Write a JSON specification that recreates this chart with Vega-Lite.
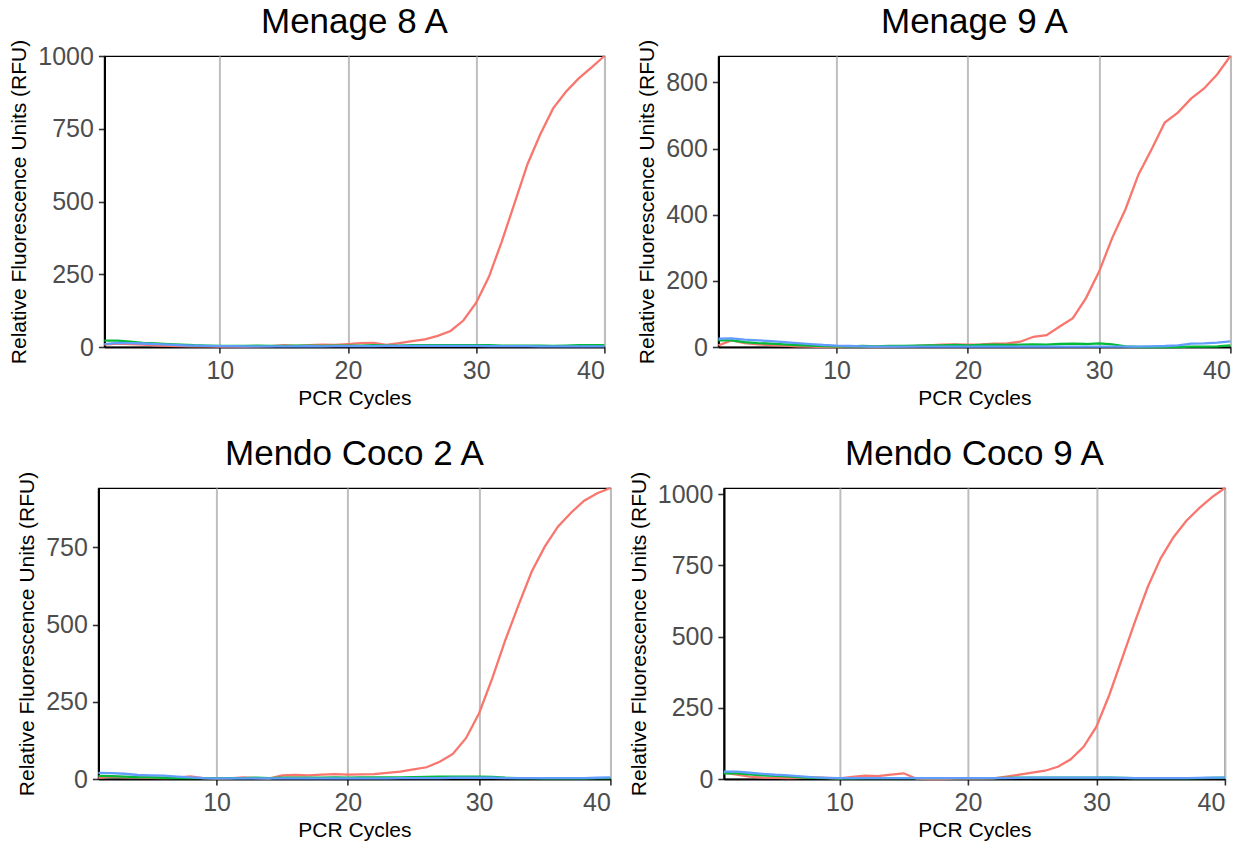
{
  "$schema": "https://vega.github.io/schema/vega-lite/v6.json",
  "padding": {"left": 8, "top": 4, "right": 5, "bottom": 5},
  "background": "white",
  "datasets": {
    "m8": [
      {"cycle":1,"dye":"R","rfu":8},{"cycle":2,"dye":"R","rfu":12},{"cycle":3,"dye":"R","rfu":10},{"cycle":4,"dye":"R","rfu":8},{"cycle":5,"dye":"R","rfu":6},{"cycle":6,"dye":"R","rfu":4},{"cycle":7,"dye":"R","rfu":3},{"cycle":8,"dye":"R","rfu":2},{"cycle":9,"dye":"R","rfu":2},{"cycle":10,"dye":"R","rfu":1},
      {"cycle":11,"dye":"R","rfu":2},{"cycle":12,"dye":"R","rfu":1},{"cycle":13,"dye":"R","rfu":2},{"cycle":14,"dye":"R","rfu":3},{"cycle":15,"dye":"R","rfu":6},{"cycle":16,"dye":"R","rfu":4},{"cycle":17,"dye":"R","rfu":6},{"cycle":18,"dye":"R","rfu":8},{"cycle":19,"dye":"R","rfu":7},{"cycle":20,"dye":"R","rfu":10},
      {"cycle":21,"dye":"R","rfu":13},{"cycle":22,"dye":"R","rfu":14},{"cycle":23,"dye":"R","rfu":7},{"cycle":24,"dye":"R","rfu":13},{"cycle":25,"dye":"R","rfu":20},{"cycle":26,"dye":"R","rfu":26},{"cycle":27,"dye":"R","rfu":38},{"cycle":28,"dye":"R","rfu":55},{"cycle":29,"dye":"R","rfu":91},{"cycle":30,"dye":"R","rfu":152},
      {"cycle":31,"dye":"R","rfu":242},{"cycle":32,"dye":"R","rfu":363},{"cycle":33,"dye":"R","rfu":495},{"cycle":34,"dye":"R","rfu":628},{"cycle":35,"dye":"R","rfu":731},{"cycle":36,"dye":"R","rfu":820},{"cycle":37,"dye":"R","rfu":877},{"cycle":38,"dye":"R","rfu":923},{"cycle":39,"dye":"R","rfu":961},{"cycle":40,"dye":"R","rfu":1000},
      {"cycle":1,"dye":"G","rfu":22},{"cycle":2,"dye":"G","rfu":22},{"cycle":3,"dye":"G","rfu":18},{"cycle":4,"dye":"G","rfu":14},{"cycle":5,"dye":"G","rfu":12},{"cycle":6,"dye":"G","rfu":10},{"cycle":7,"dye":"G","rfu":8},{"cycle":8,"dye":"G","rfu":6},{"cycle":9,"dye":"G","rfu":5},{"cycle":10,"dye":"G","rfu":4},
      {"cycle":11,"dye":"G","rfu":4},{"cycle":12,"dye":"G","rfu":4},{"cycle":13,"dye":"G","rfu":5},{"cycle":14,"dye":"G","rfu":4},{"cycle":15,"dye":"G","rfu":4},{"cycle":16,"dye":"G","rfu":5},{"cycle":17,"dye":"G","rfu":5},{"cycle":18,"dye":"G","rfu":4},{"cycle":19,"dye":"G","rfu":5},{"cycle":20,"dye":"G","rfu":5},
      {"cycle":21,"dye":"G","rfu":5},{"cycle":22,"dye":"G","rfu":6},{"cycle":23,"dye":"G","rfu":5},{"cycle":24,"dye":"G","rfu":5},{"cycle":25,"dye":"G","rfu":6},{"cycle":26,"dye":"G","rfu":6},{"cycle":27,"dye":"G","rfu":6},{"cycle":28,"dye":"G","rfu":6},{"cycle":29,"dye":"G","rfu":6},{"cycle":30,"dye":"G","rfu":6},
      {"cycle":31,"dye":"G","rfu":6},{"cycle":32,"dye":"G","rfu":5},{"cycle":33,"dye":"G","rfu":5},{"cycle":34,"dye":"G","rfu":5},{"cycle":35,"dye":"G","rfu":5},{"cycle":36,"dye":"G","rfu":4},{"cycle":37,"dye":"G","rfu":5},{"cycle":38,"dye":"G","rfu":6},{"cycle":39,"dye":"G","rfu":6},{"cycle":40,"dye":"G","rfu":6},
      {"cycle":1,"dye":"B","rfu":10},{"cycle":2,"dye":"B","rfu":14},{"cycle":3,"dye":"B","rfu":13},{"cycle":4,"dye":"B","rfu":12},{"cycle":5,"dye":"B","rfu":10},{"cycle":6,"dye":"B","rfu":8},{"cycle":7,"dye":"B","rfu":6},{"cycle":8,"dye":"B","rfu":5},{"cycle":9,"dye":"B","rfu":4},{"cycle":10,"dye":"B","rfu":3},
      {"cycle":11,"dye":"B","rfu":3},{"cycle":12,"dye":"B","rfu":2},{"cycle":13,"dye":"B","rfu":2},{"cycle":14,"dye":"B","rfu":2},{"cycle":15,"dye":"B","rfu":2},{"cycle":16,"dye":"B","rfu":2},{"cycle":17,"dye":"B","rfu":3},{"cycle":18,"dye":"B","rfu":2},{"cycle":19,"dye":"B","rfu":3},{"cycle":20,"dye":"B","rfu":3},
      {"cycle":21,"dye":"B","rfu":3},{"cycle":22,"dye":"B","rfu":3},{"cycle":23,"dye":"B","rfu":4},{"cycle":24,"dye":"B","rfu":4},{"cycle":25,"dye":"B","rfu":4},{"cycle":26,"dye":"B","rfu":4},{"cycle":27,"dye":"B","rfu":4},{"cycle":28,"dye":"B","rfu":4},{"cycle":29,"dye":"B","rfu":4},{"cycle":30,"dye":"B","rfu":4},
      {"cycle":31,"dye":"B","rfu":3},{"cycle":32,"dye":"B","rfu":3},{"cycle":33,"dye":"B","rfu":3},{"cycle":34,"dye":"B","rfu":3},{"cycle":35,"dye":"B","rfu":2},{"cycle":36,"dye":"B","rfu":2},{"cycle":37,"dye":"B","rfu":2},{"cycle":38,"dye":"B","rfu":2},{"cycle":39,"dye":"B","rfu":2},{"cycle":40,"dye":"B","rfu":2}
    ],
    "m9": [
      {"cycle":1,"dye":"R","rfu":5},{"cycle":2,"dye":"R","rfu":20},{"cycle":3,"dye":"R","rfu":12},{"cycle":4,"dye":"R","rfu":8},{"cycle":5,"dye":"R","rfu":6},{"cycle":6,"dye":"R","rfu":4},{"cycle":7,"dye":"R","rfu":2},{"cycle":8,"dye":"R","rfu":1},{"cycle":9,"dye":"R","rfu":0},{"cycle":10,"dye":"R","rfu":0},
      {"cycle":11,"dye":"R","rfu":2},{"cycle":12,"dye":"R","rfu":1},{"cycle":13,"dye":"R","rfu":0},{"cycle":14,"dye":"R","rfu":1},{"cycle":15,"dye":"R","rfu":2},{"cycle":16,"dye":"R","rfu":3},{"cycle":17,"dye":"R","rfu":5},{"cycle":18,"dye":"R","rfu":7},{"cycle":19,"dye":"R","rfu":8},{"cycle":20,"dye":"R","rfu":7},
      {"cycle":21,"dye":"R","rfu":8},{"cycle":22,"dye":"R","rfu":10},{"cycle":23,"dye":"R","rfu":11},{"cycle":24,"dye":"R","rfu":16},{"cycle":25,"dye":"R","rfu":31},{"cycle":26,"dye":"R","rfu":36},{"cycle":27,"dye":"R","rfu":62},{"cycle":28,"dye":"R","rfu":87},{"cycle":29,"dye":"R","rfu":148},{"cycle":30,"dye":"R","rfu":228},
      {"cycle":31,"dye":"R","rfu":330},{"cycle":32,"dye":"R","rfu":416},{"cycle":33,"dye":"R","rfu":522},{"cycle":34,"dye":"R","rfu":598},{"cycle":35,"dye":"R","rfu":679},{"cycle":36,"dye":"R","rfu":709},{"cycle":37,"dye":"R","rfu":751},{"cycle":38,"dye":"R","rfu":782},{"cycle":39,"dye":"R","rfu":825},{"cycle":40,"dye":"R","rfu":880},
      {"cycle":1,"dye":"G","rfu":20},{"cycle":2,"dye":"G","rfu":20},{"cycle":3,"dye":"G","rfu":15},{"cycle":4,"dye":"G","rfu":12},{"cycle":5,"dye":"G","rfu":10},{"cycle":6,"dye":"G","rfu":8},{"cycle":7,"dye":"G","rfu":6},{"cycle":8,"dye":"G","rfu":4},{"cycle":9,"dye":"G","rfu":3},{"cycle":10,"dye":"G","rfu":2},
      {"cycle":11,"dye":"G","rfu":2},{"cycle":12,"dye":"G","rfu":3},{"cycle":13,"dye":"G","rfu":2},{"cycle":14,"dye":"G","rfu":3},{"cycle":15,"dye":"G","rfu":3},{"cycle":16,"dye":"G","rfu":4},{"cycle":17,"dye":"G","rfu":5},{"cycle":18,"dye":"G","rfu":5},{"cycle":19,"dye":"G","rfu":6},{"cycle":20,"dye":"G","rfu":5},
      {"cycle":21,"dye":"G","rfu":6},{"cycle":22,"dye":"G","rfu":7},{"cycle":23,"dye":"G","rfu":6},{"cycle":24,"dye":"G","rfu":7},{"cycle":25,"dye":"G","rfu":8},{"cycle":26,"dye":"G","rfu":7},{"cycle":27,"dye":"G","rfu":9},{"cycle":28,"dye":"G","rfu":10},{"cycle":29,"dye":"G","rfu":9},{"cycle":30,"dye":"G","rfu":11},
      {"cycle":31,"dye":"G","rfu":8},{"cycle":32,"dye":"G","rfu":2},{"cycle":33,"dye":"G","rfu":0},{"cycle":34,"dye":"G","rfu":0},{"cycle":35,"dye":"G","rfu":0},{"cycle":36,"dye":"G","rfu":0},{"cycle":37,"dye":"G","rfu":1},{"cycle":38,"dye":"G","rfu":1},{"cycle":39,"dye":"G","rfu":2},{"cycle":40,"dye":"G","rfu":5},
      {"cycle":1,"dye":"B","rfu":25},{"cycle":2,"dye":"B","rfu":26},{"cycle":3,"dye":"B","rfu":22},{"cycle":4,"dye":"B","rfu":20},{"cycle":5,"dye":"B","rfu":18},{"cycle":6,"dye":"B","rfu":15},{"cycle":7,"dye":"B","rfu":12},{"cycle":8,"dye":"B","rfu":9},{"cycle":9,"dye":"B","rfu":6},{"cycle":10,"dye":"B","rfu":4},
      {"cycle":11,"dye":"B","rfu":3},{"cycle":12,"dye":"B","rfu":2},{"cycle":13,"dye":"B","rfu":1},{"cycle":14,"dye":"B","rfu":1},{"cycle":15,"dye":"B","rfu":1},{"cycle":16,"dye":"B","rfu":1},{"cycle":17,"dye":"B","rfu":1},{"cycle":18,"dye":"B","rfu":1},{"cycle":19,"dye":"B","rfu":1},{"cycle":20,"dye":"B","rfu":1},
      {"cycle":21,"dye":"B","rfu":1},{"cycle":22,"dye":"B","rfu":1},{"cycle":23,"dye":"B","rfu":1},{"cycle":24,"dye":"B","rfu":1},{"cycle":25,"dye":"B","rfu":1},{"cycle":26,"dye":"B","rfu":1},{"cycle":27,"dye":"B","rfu":1},{"cycle":28,"dye":"B","rfu":1},{"cycle":29,"dye":"B","rfu":1},{"cycle":30,"dye":"B","rfu":1},
      {"cycle":31,"dye":"B","rfu":1},{"cycle":32,"dye":"B","rfu":1},{"cycle":33,"dye":"B","rfu":1},{"cycle":34,"dye":"B","rfu":2},{"cycle":35,"dye":"B","rfu":3},{"cycle":36,"dye":"B","rfu":5},{"cycle":37,"dye":"B","rfu":10},{"cycle":38,"dye":"B","rfu":11},{"cycle":39,"dye":"B","rfu":13},{"cycle":40,"dye":"B","rfu":17}
    ],
    "c2": [
      {"cycle":1,"dye":"R","rfu":4},{"cycle":2,"dye":"R","rfu":8},{"cycle":3,"dye":"R","rfu":6},{"cycle":4,"dye":"R","rfu":5},{"cycle":5,"dye":"R","rfu":4},{"cycle":6,"dye":"R","rfu":3},{"cycle":7,"dye":"R","rfu":4},{"cycle":8,"dye":"R","rfu":8},{"cycle":9,"dye":"R","rfu":3},{"cycle":10,"dye":"R","rfu":1},
      {"cycle":11,"dye":"R","rfu":2},{"cycle":12,"dye":"R","rfu":5},{"cycle":13,"dye":"R","rfu":3},{"cycle":14,"dye":"R","rfu":1},{"cycle":15,"dye":"R","rfu":12},{"cycle":16,"dye":"R","rfu":13},{"cycle":17,"dye":"R","rfu":12},{"cycle":18,"dye":"R","rfu":14},{"cycle":19,"dye":"R","rfu":16},{"cycle":20,"dye":"R","rfu":14},
      {"cycle":21,"dye":"R","rfu":15},{"cycle":22,"dye":"R","rfu":16},{"cycle":23,"dye":"R","rfu":20},{"cycle":24,"dye":"R","rfu":24},{"cycle":25,"dye":"R","rfu":31},{"cycle":26,"dye":"R","rfu":38},{"cycle":27,"dye":"R","rfu":56},{"cycle":28,"dye":"R","rfu":81},{"cycle":29,"dye":"R","rfu":132},{"cycle":30,"dye":"R","rfu":213},
      {"cycle":31,"dye":"R","rfu":326},{"cycle":32,"dye":"R","rfu":450},{"cycle":33,"dye":"R","rfu":563},{"cycle":34,"dye":"R","rfu":671},{"cycle":35,"dye":"R","rfu":752},{"cycle":36,"dye":"R","rfu":817},{"cycle":37,"dye":"R","rfu":862},{"cycle":38,"dye":"R","rfu":901},{"cycle":39,"dye":"R","rfu":925},{"cycle":40,"dye":"R","rfu":942},
      {"cycle":1,"dye":"G","rfu":10},{"cycle":2,"dye":"G","rfu":9},{"cycle":3,"dye":"G","rfu":8},{"cycle":4,"dye":"G","rfu":6},{"cycle":5,"dye":"G","rfu":5},{"cycle":6,"dye":"G","rfu":4},{"cycle":7,"dye":"G","rfu":3},{"cycle":8,"dye":"G","rfu":3},{"cycle":9,"dye":"G","rfu":3},{"cycle":10,"dye":"G","rfu":3},
      {"cycle":11,"dye":"G","rfu":3},{"cycle":12,"dye":"G","rfu":3},{"cycle":13,"dye":"G","rfu":4},{"cycle":14,"dye":"G","rfu":3},{"cycle":15,"dye":"G","rfu":4},{"cycle":16,"dye":"G","rfu":4},{"cycle":17,"dye":"G","rfu":4},{"cycle":18,"dye":"G","rfu":4},{"cycle":19,"dye":"G","rfu":5},{"cycle":20,"dye":"G","rfu":4},
      {"cycle":21,"dye":"G","rfu":5},{"cycle":22,"dye":"G","rfu":5},{"cycle":23,"dye":"G","rfu":5},{"cycle":24,"dye":"G","rfu":5},{"cycle":25,"dye":"G","rfu":6},{"cycle":26,"dye":"G","rfu":7},{"cycle":27,"dye":"G","rfu":8},{"cycle":28,"dye":"G","rfu":8},{"cycle":29,"dye":"G","rfu":8},{"cycle":30,"dye":"G","rfu":8},
      {"cycle":31,"dye":"G","rfu":7},{"cycle":32,"dye":"G","rfu":4},{"cycle":33,"dye":"G","rfu":3},{"cycle":34,"dye":"G","rfu":3},{"cycle":35,"dye":"G","rfu":2},{"cycle":36,"dye":"G","rfu":2},{"cycle":37,"dye":"G","rfu":2},{"cycle":38,"dye":"G","rfu":2},{"cycle":39,"dye":"G","rfu":3},{"cycle":40,"dye":"G","rfu":3},
      {"cycle":1,"dye":"B","rfu":20},{"cycle":2,"dye":"B","rfu":19},{"cycle":3,"dye":"B","rfu":17},{"cycle":4,"dye":"B","rfu":13},{"cycle":5,"dye":"B","rfu":12},{"cycle":6,"dye":"B","rfu":11},{"cycle":7,"dye":"B","rfu":8},{"cycle":8,"dye":"B","rfu":5},{"cycle":9,"dye":"B","rfu":3},{"cycle":10,"dye":"B","rfu":2},
      {"cycle":11,"dye":"B","rfu":2},{"cycle":12,"dye":"B","rfu":2},{"cycle":13,"dye":"B","rfu":2},{"cycle":14,"dye":"B","rfu":2},{"cycle":15,"dye":"B","rfu":2},{"cycle":16,"dye":"B","rfu":2},{"cycle":17,"dye":"B","rfu":2},{"cycle":18,"dye":"B","rfu":2},{"cycle":19,"dye":"B","rfu":2},{"cycle":20,"dye":"B","rfu":2},
      {"cycle":21,"dye":"B","rfu":2},{"cycle":22,"dye":"B","rfu":2},{"cycle":23,"dye":"B","rfu":2},{"cycle":24,"dye":"B","rfu":3},{"cycle":25,"dye":"B","rfu":3},{"cycle":26,"dye":"B","rfu":3},{"cycle":27,"dye":"B","rfu":3},{"cycle":28,"dye":"B","rfu":4},{"cycle":29,"dye":"B","rfu":4},{"cycle":30,"dye":"B","rfu":4},
      {"cycle":31,"dye":"B","rfu":4},{"cycle":32,"dye":"B","rfu":3},{"cycle":33,"dye":"B","rfu":3},{"cycle":34,"dye":"B","rfu":3},{"cycle":35,"dye":"B","rfu":3},{"cycle":36,"dye":"B","rfu":3},{"cycle":37,"dye":"B","rfu":3},{"cycle":38,"dye":"B","rfu":3},{"cycle":39,"dye":"B","rfu":4},{"cycle":40,"dye":"B","rfu":5}
    ],
    "c9": [
      {"cycle":1,"dye":"R","rfu":22},{"cycle":2,"dye":"R","rfu":15},{"cycle":3,"dye":"R","rfu":8},{"cycle":4,"dye":"R","rfu":5},{"cycle":5,"dye":"R","rfu":4},{"cycle":6,"dye":"R","rfu":3},{"cycle":7,"dye":"R","rfu":4},{"cycle":8,"dye":"R","rfu":6},{"cycle":9,"dye":"R","rfu":4},{"cycle":10,"dye":"R","rfu":2},
      {"cycle":11,"dye":"R","rfu":7},{"cycle":12,"dye":"R","rfu":12},{"cycle":13,"dye":"R","rfu":10},{"cycle":14,"dye":"R","rfu":15},{"cycle":15,"dye":"R","rfu":20},{"cycle":16,"dye":"R","rfu":1},{"cycle":17,"dye":"R","rfu":0},{"cycle":18,"dye":"R","rfu":0},{"cycle":19,"dye":"R","rfu":1},{"cycle":20,"dye":"R","rfu":1},
      {"cycle":21,"dye":"R","rfu":1},{"cycle":22,"dye":"R","rfu":2},{"cycle":23,"dye":"R","rfu":8},{"cycle":24,"dye":"R","rfu":15},{"cycle":25,"dye":"R","rfu":22},{"cycle":26,"dye":"R","rfu":29},{"cycle":27,"dye":"R","rfu":43},{"cycle":28,"dye":"R","rfu":69},{"cycle":29,"dye":"R","rfu":113},{"cycle":30,"dye":"R","rfu":184},
      {"cycle":31,"dye":"R","rfu":295},{"cycle":32,"dye":"R","rfu":424},{"cycle":33,"dye":"R","rfu":553},{"cycle":34,"dye":"R","rfu":675},{"cycle":35,"dye":"R","rfu":775},{"cycle":36,"dye":"R","rfu":849},{"cycle":37,"dye":"R","rfu":907},{"cycle":38,"dye":"R","rfu":951},{"cycle":39,"dye":"R","rfu":990},{"cycle":40,"dye":"R","rfu":1022},
      {"cycle":1,"dye":"G","rfu":20},{"cycle":2,"dye":"G","rfu":20},{"cycle":3,"dye":"G","rfu":16},{"cycle":4,"dye":"G","rfu":13},{"cycle":5,"dye":"G","rfu":11},{"cycle":6,"dye":"G","rfu":9},{"cycle":7,"dye":"G","rfu":6},{"cycle":8,"dye":"G","rfu":4},{"cycle":9,"dye":"G","rfu":3},{"cycle":10,"dye":"G","rfu":2},
      {"cycle":11,"dye":"G","rfu":2},{"cycle":12,"dye":"G","rfu":3},{"cycle":13,"dye":"G","rfu":3},{"cycle":14,"dye":"G","rfu":3},{"cycle":15,"dye":"G","rfu":3},{"cycle":16,"dye":"G","rfu":3},{"cycle":17,"dye":"G","rfu":3},{"cycle":18,"dye":"G","rfu":3},{"cycle":19,"dye":"G","rfu":3},{"cycle":20,"dye":"G","rfu":3},
      {"cycle":21,"dye":"G","rfu":3},{"cycle":22,"dye":"G","rfu":3},{"cycle":23,"dye":"G","rfu":4},{"cycle":24,"dye":"G","rfu":5},{"cycle":25,"dye":"G","rfu":5},{"cycle":26,"dye":"G","rfu":5},{"cycle":27,"dye":"G","rfu":5},{"cycle":28,"dye":"G","rfu":5},{"cycle":29,"dye":"G","rfu":5},{"cycle":30,"dye":"G","rfu":5},
      {"cycle":31,"dye":"G","rfu":5},{"cycle":32,"dye":"G","rfu":4},{"cycle":33,"dye":"G","rfu":3},{"cycle":34,"dye":"G","rfu":3},{"cycle":35,"dye":"G","rfu":3},{"cycle":36,"dye":"G","rfu":3},{"cycle":37,"dye":"G","rfu":3},{"cycle":38,"dye":"G","rfu":3},{"cycle":39,"dye":"G","rfu":4},{"cycle":40,"dye":"G","rfu":5},
      {"cycle":1,"dye":"B","rfu":26},{"cycle":2,"dye":"B","rfu":26},{"cycle":3,"dye":"B","rfu":22},{"cycle":4,"dye":"B","rfu":18},{"cycle":5,"dye":"B","rfu":15},{"cycle":6,"dye":"B","rfu":13},{"cycle":7,"dye":"B","rfu":9},{"cycle":8,"dye":"B","rfu":6},{"cycle":9,"dye":"B","rfu":4},{"cycle":10,"dye":"B","rfu":3},
      {"cycle":11,"dye":"B","rfu":3},{"cycle":12,"dye":"B","rfu":3},{"cycle":13,"dye":"B","rfu":3},{"cycle":14,"dye":"B","rfu":3},{"cycle":15,"dye":"B","rfu":3},{"cycle":16,"dye":"B","rfu":3},{"cycle":17,"dye":"B","rfu":3},{"cycle":18,"dye":"B","rfu":3},{"cycle":19,"dye":"B","rfu":3},{"cycle":20,"dye":"B","rfu":3},
      {"cycle":21,"dye":"B","rfu":3},{"cycle":22,"dye":"B","rfu":3},{"cycle":23,"dye":"B","rfu":3},{"cycle":24,"dye":"B","rfu":4},{"cycle":25,"dye":"B","rfu":5},{"cycle":26,"dye":"B","rfu":5},{"cycle":27,"dye":"B","rfu":5},{"cycle":28,"dye":"B","rfu":5},{"cycle":29,"dye":"B","rfu":5},{"cycle":30,"dye":"B","rfu":5},
      {"cycle":31,"dye":"B","rfu":5},{"cycle":32,"dye":"B","rfu":4},{"cycle":33,"dye":"B","rfu":3},{"cycle":34,"dye":"B","rfu":3},{"cycle":35,"dye":"B","rfu":3},{"cycle":36,"dye":"B","rfu":3},{"cycle":37,"dye":"B","rfu":3},{"cycle":38,"dye":"B","rfu":4},{"cycle":39,"dye":"B","rfu":5},{"cycle":40,"dye":"B","rfu":5}
    ]
  },
  "config": {
    "view": {"stroke": "black", "strokeWidth": 1.2},
    "axis": {
      "labelFont": "Liberation Sans", "labelFontSize": 25, "labelColor": "#4D4D4D",
      "titleFont": "Liberation Sans", "titleFontSize": 21, "titleFontWeight": "normal", "titleColor": "black",
      "domainColor": "black", "domainWidth": 2.2, "tickColor": "#333333", "tickWidth": 1.6, "tickSize": 6,
      "labelPadding": 5, "titlePadding": 8
    },
    "axisX": {"grid": true, "gridColor": "#BEBEBE", "gridWidth": 2, "titlePadding": 4},
    "axisY": {"grid": false, "format": "d"},
    "title": {"font": "Liberation Sans", "fontSize": 35, "fontWeight": "normal", "color": "black", "anchor": "middle", "offset": -1, "frame": "group"},
    "line": {"strokeWidth": 2.3, "clip": true}
  },
  "spacing": 11,
  "hconcat": [
    {
      "spacing": 27,
      "center": true,
      "vconcat": [
        {
          "title": "Menage 8 A", "width": 500, "height": 291,
          "data": {"name": "m8"},
          "mark": "line",
          "encoding": {
            "x": {"field": "cycle", "type": "quantitative", "title": "PCR Cycles", "scale": {"domain": [1, 40], "nice": false, "zero": false}, "axis": {"values": [10, 20, 30, 40]}},
            "y": {"field": "rfu", "type": "quantitative", "title": "Relative Fluorescence Units (RFU)", "scale": {"domain": [0, 1000], "nice": false}, "axis": {"values": [0, 250, 500, 750, 1000]}},
            "color": {"field": "dye", "type": "nominal", "sort": ["R", "G", "B"], "scale": {"domain": ["R", "G", "B"], "range": ["#F8766D", "#00BA38", "#619CFF"]}, "legend": null}
          }
        },
        {
          "title": "Mendo Coco 2 A", "width": 512, "height": 291,
          "data": {"name": "c2"},
          "mark": "line",
          "encoding": {
            "x": {"field": "cycle", "type": "quantitative", "title": "PCR Cycles", "scale": {"domain": [1, 40], "nice": false, "zero": false}, "axis": {"values": [10, 20, 30, 40]}},
            "y": {"field": "rfu", "type": "quantitative", "title": "Relative Fluorescence Units (RFU)", "scale": {"domain": [0, 942], "nice": false}, "axis": {"values": [0, 250, 500, 750]}},
            "color": {"field": "dye", "type": "nominal", "sort": ["R", "G", "B"], "scale": {"domain": ["R", "G", "B"], "range": ["#F8766D", "#00BA38", "#619CFF"]}, "legend": null}
          }
        }
      ]
    },
    {
      "spacing": 27,
      "center": true,
      "vconcat": [
        {
          "title": "Menage 9 A", "width": 512, "height": 291,
          "data": {"name": "m9"},
          "mark": "line",
          "encoding": {
            "x": {"field": "cycle", "type": "quantitative", "title": "PCR Cycles", "scale": {"domain": [1, 40], "nice": false, "zero": false}, "axis": {"values": [10, 20, 30, 40]}},
            "y": {"field": "rfu", "type": "quantitative", "title": "Relative Fluorescence Units (RFU)", "scale": {"domain": [0, 880], "nice": false}, "axis": {"values": [0, 200, 400, 600, 800]}},
            "color": {"field": "dye", "type": "nominal", "sort": ["R", "G", "B"], "scale": {"domain": ["R", "G", "B"], "range": ["#F8766D", "#00BA38", "#619CFF"]}, "legend": null}
          }
        },
        {
          "title": "Mendo Coco 9 A", "width": 501, "height": 291,
          "data": {"name": "c9"},
          "mark": "line",
          "encoding": {
            "x": {"field": "cycle", "type": "quantitative", "title": "PCR Cycles", "scale": {"domain": [1, 40], "nice": false, "zero": false}, "axis": {"values": [10, 20, 30, 40]}},
            "y": {"field": "rfu", "type": "quantitative", "title": "Relative Fluorescence Units (RFU)", "scale": {"domain": [0, 1022], "nice": false}, "axis": {"values": [0, 250, 500, 750, 1000]}},
            "color": {"field": "dye", "type": "nominal", "sort": ["R", "G", "B"], "scale": {"domain": ["R", "G", "B"], "range": ["#F8766D", "#00BA38", "#619CFF"]}, "legend": null}
          }
        }
      ]
    }
  ]
}
